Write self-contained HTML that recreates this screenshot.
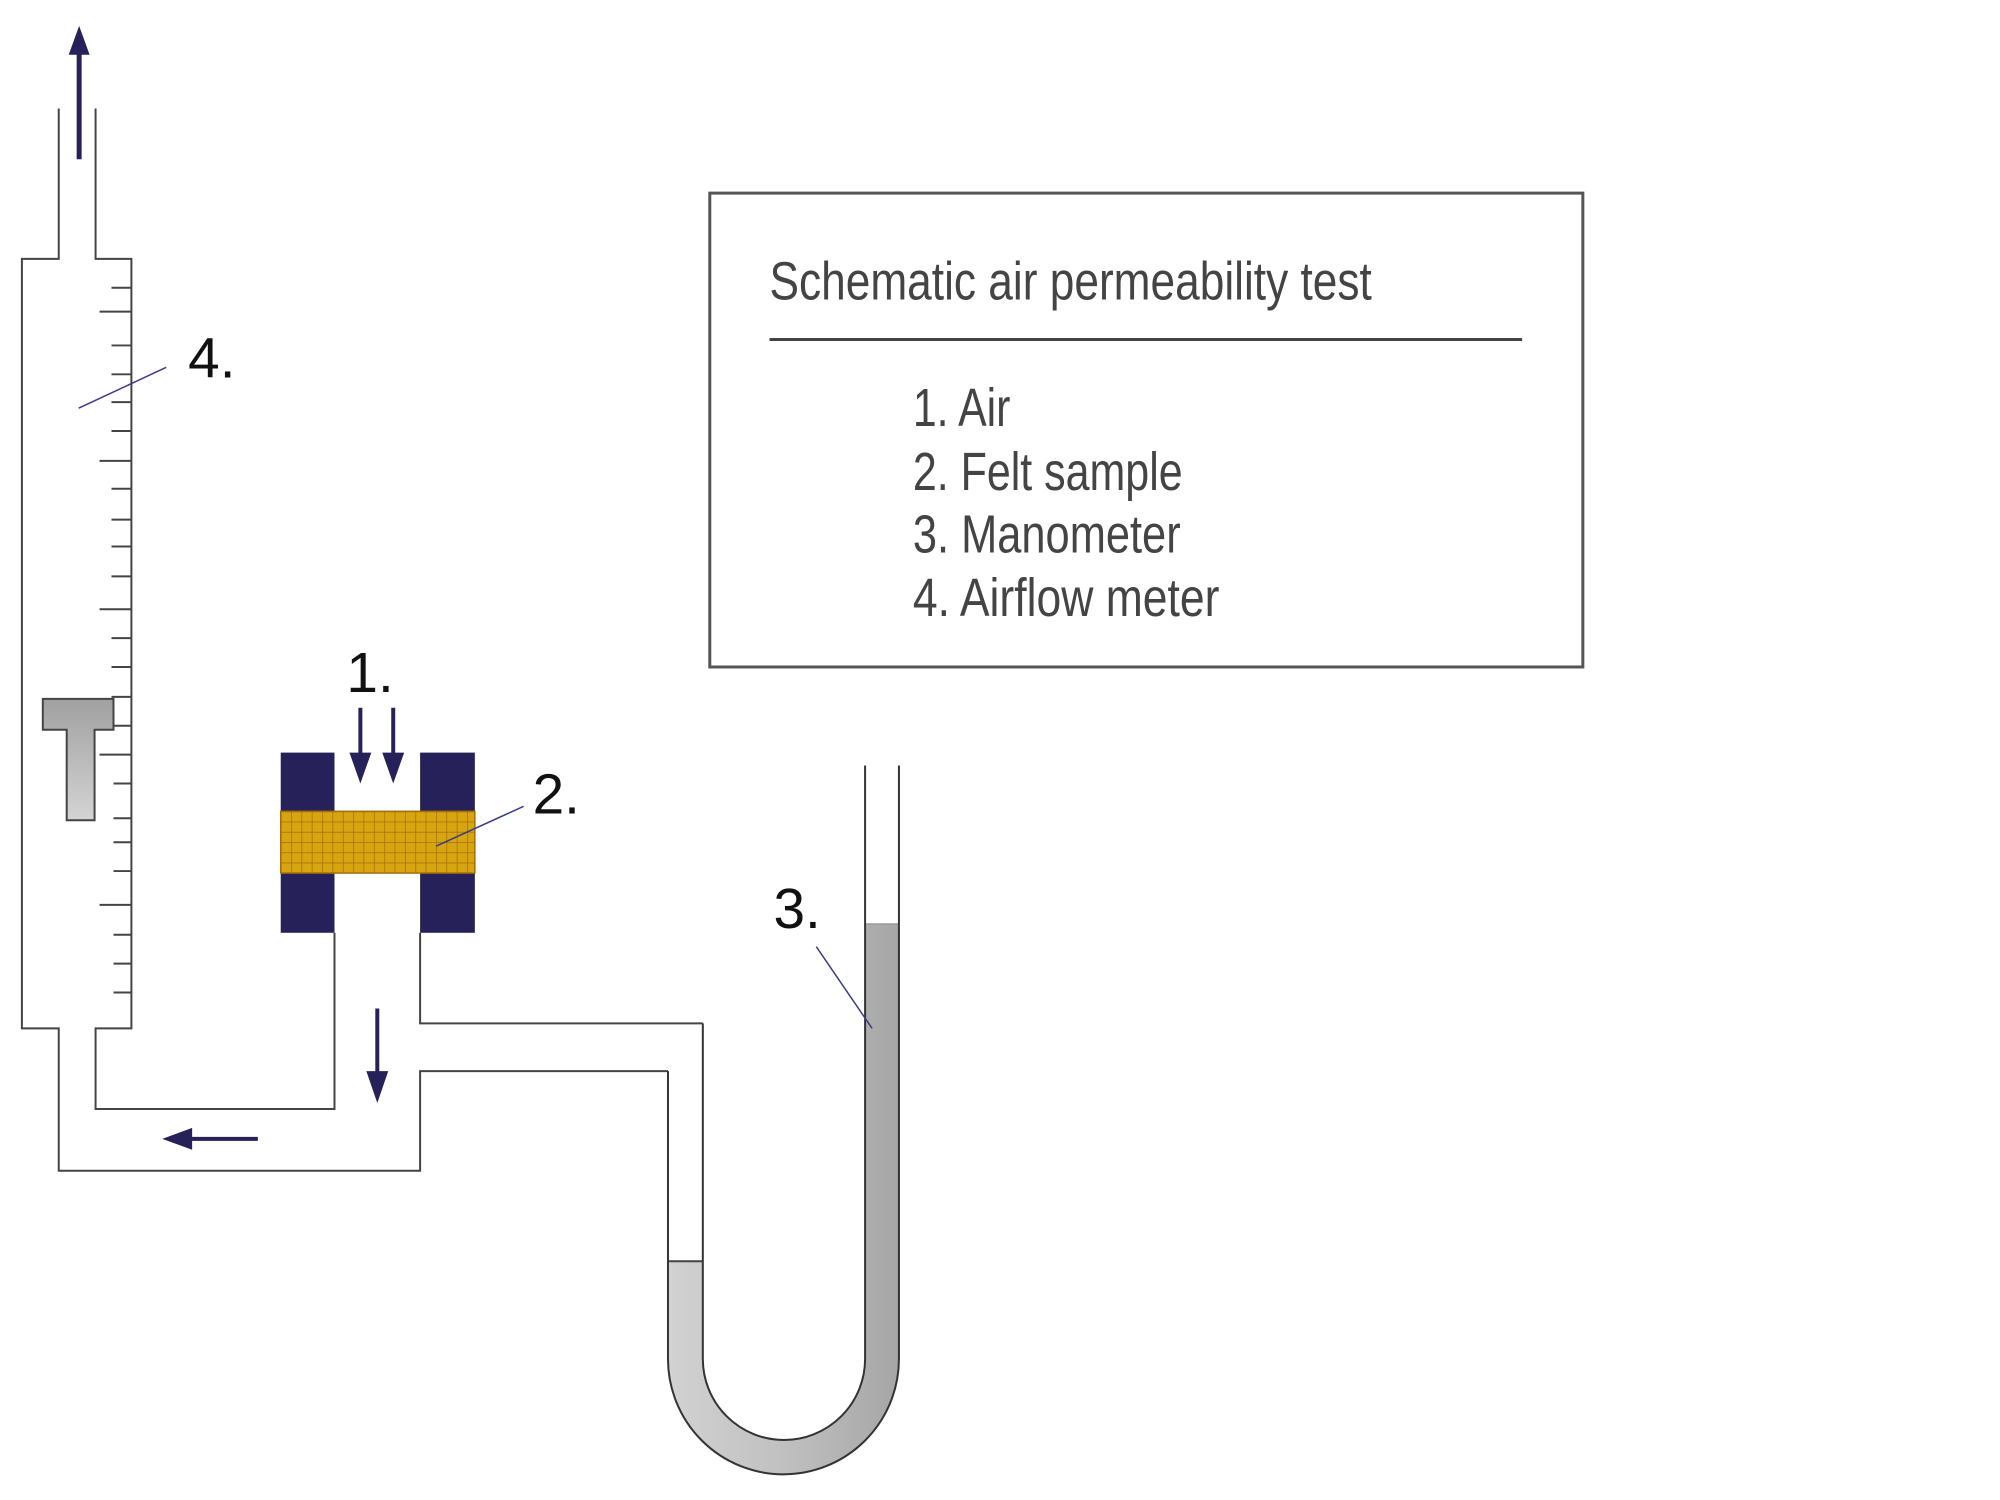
<!DOCTYPE html>
<html><head><meta charset="utf-8"><style>
html,body{margin:0;padding:0;background:#fff;}
svg{display:block;}
</style></head><body>
<svg width="2000" height="1500" viewBox="0 0 2000 1500" xmlns="http://www.w3.org/2000/svg">
<defs>
<pattern id="grid" x="282" y="815" width="10.4" height="10.3" patternUnits="userSpaceOnUse">
<rect width="10.4" height="10.3" fill="#d6a510"/>
<path d="M0 0H10.4M0 0V10.3" stroke="#a56d08" stroke-width="1.4" fill="none"/>
</pattern>
<linearGradient id="tg" x1="0" y1="0" x2="0" y2="1">
<stop offset="0" stop-color="#a0a0a0"/><stop offset="1" stop-color="#d4d4d4"/>
</linearGradient>
<linearGradient id="fg" x1="671" y1="0" x2="903" y2="0" gradientUnits="userSpaceOnUse">
<stop offset="0" stop-color="#d2d2d2"/><stop offset="0.5" stop-color="#c0c0c0"/><stop offset="1" stop-color="#a6a6a6"/>
</linearGradient>
</defs>
<g transform="scale(0.9955)">
<!-- syringe -->
<g fill="none" stroke="#444" stroke-width="2">
<path d="M59 109V260H22V1033H59V1176H422V1076H671"/>
<path d="M96 109V260H132V1033H96V1114H336V937"/>
<path d="M422 937V1028H706"/>
</g>
<g stroke="#444" stroke-width="2">
<line x1="112" y1="289" x2="132" y2="289"/>
<line x1="100" y1="313" x2="132" y2="313"/>
<line x1="112" y1="347" x2="132" y2="347"/>
<line x1="112" y1="376" x2="132" y2="376"/>
<line x1="112" y1="404" x2="132" y2="404"/>
<line x1="112" y1="433" x2="132" y2="433"/>
<line x1="100" y1="463" x2="132" y2="463"/>
<line x1="112" y1="491" x2="132" y2="491"/>
<line x1="112" y1="522" x2="132" y2="522"/>
<line x1="112" y1="549" x2="132" y2="549"/>
<line x1="112" y1="579" x2="132" y2="579"/>
<line x1="100" y1="612" x2="132" y2="612"/>
<line x1="112" y1="641" x2="132" y2="641"/>
<line x1="112" y1="670" x2="132" y2="670"/>
<line x1="112" y1="700" x2="132" y2="700"/>
<line x1="112" y1="729" x2="132" y2="729"/>
<line x1="100" y1="758" x2="132" y2="758"/>
<line x1="114" y1="787" x2="132" y2="787"/>
<line x1="114" y1="822" x2="132" y2="822"/>
<line x1="114" y1="846" x2="132" y2="846"/>
<line x1="114" y1="875" x2="132" y2="875"/>
<line x1="100" y1="909" x2="132" y2="909"/>
<line x1="114" y1="939" x2="132" y2="939"/>
<line x1="114" y1="968" x2="132" y2="968"/>
<line x1="114" y1="997" x2="132" y2="997"/>
</g>
<path d="M43 702H114V733H95V824H67V733H43Z" fill="url(#tg)" stroke="#444" stroke-width="2"/>

<line x1="79.5" y1="160" x2="79.5" y2="50" stroke="#262259" stroke-width="5"/>
<polygon points="79.5,26 69,55 90,55" fill="#262259"/>

<rect x="282" y="756" width="54" height="181" fill="#262259"/>
<rect x="422" y="756" width="55" height="181" fill="#262259"/>
<rect x="282" y="815" width="195" height="62" fill="url(#grid)" stroke="#a56d08" stroke-width="1.5"/>

<g fill="#262259">
<line x1="362" y1="711" x2="362" y2="760" stroke="#262259" stroke-width="4"/>
<polygon points="362,787 351,756 373,756"/>
<line x1="395" y1="711" x2="395" y2="760" stroke="#262259" stroke-width="4"/>
<polygon points="395,787 384,756 406,756"/>
<line x1="379" y1="1013" x2="379" y2="1080" stroke="#262259" stroke-width="4"/>
<polygon points="379,1108 368,1076 390,1076"/>
<line x1="259" y1="1144" x2="190" y2="1144" stroke="#262259" stroke-width="4"/>
<polygon points="163,1144 193,1133 193,1155"/>
</g>

<path d="M671 1267H706V1365A81.5 81.5 0 0 0 869 1365V928H903V1365A116 116 0 0 1 671 1365Z" fill="url(#fg)"/>
<line x1="671" y1="1267" x2="706" y2="1267" stroke="#444" stroke-width="2"/>
<line x1="869" y1="928" x2="903" y2="928" stroke="#888" stroke-width="1"/>
<g fill="none" stroke="#333" stroke-width="2">
<path d="M671 1076V1365A116 116 0 0 0 903 1365V769"/>
<path d="M706 1028V1365A81.5 81.5 0 0 0 869 1365V769"/>
</g>

<g stroke="#3b3b8a" stroke-width="1.5">
<line x1="167" y1="369" x2="79" y2="410"/>
<line x1="526" y1="810" x2="438" y2="850"/>
<line x1="820" y1="951" x2="876" y2="1033"/>
</g>

<g font-family="'Liberation Sans', sans-serif" font-size="57" fill="#111">
<text x="189" y="379">4.</text>
<text x="348" y="695">1.</text>
<text x="535" y="817">2.</text>
<text x="777" y="932">3.</text>
</g>

<rect x="713" y="194" width="877" height="476" fill="none" stroke="#555" stroke-width="3"/>
<line x1="773" y1="341" x2="1529" y2="341" stroke="#444" stroke-width="3"/>
<g font-family="'Liberation Sans Narrow', 'Liberation Sans', sans-serif" fill="#444" font-size="54">
<text x="773" y="301" textLength="605" lengthAdjust="spacingAndGlyphs">Schematic air permeability test</text>
<text x="917" y="428" textLength="98" lengthAdjust="spacingAndGlyphs">1. Air</text>
<text x="917" y="492" textLength="271" lengthAdjust="spacingAndGlyphs">2. Felt sample</text>
<text x="917" y="555" textLength="269" lengthAdjust="spacingAndGlyphs">3. Manometer</text>
<text x="917" y="619" textLength="308" lengthAdjust="spacingAndGlyphs">4. Airflow meter</text>
</g>
</g>
</svg>
</body></html>
